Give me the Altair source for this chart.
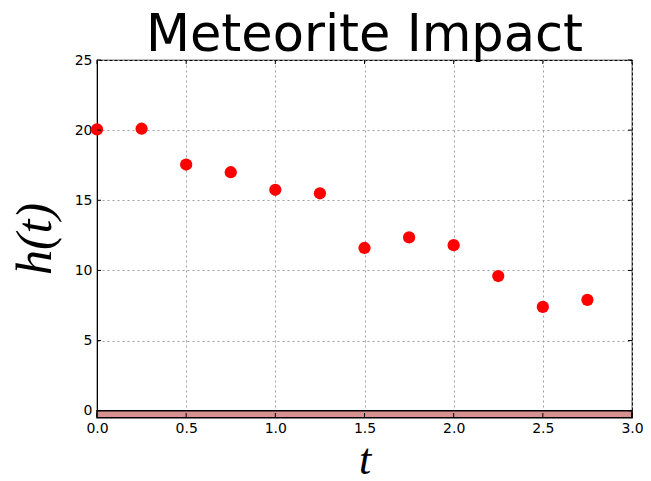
import altair as alt
import pandas as pd

t_vals = [0.0, 0.25, 0.5, 0.75, 1.0, 1.25, 1.5, 1.75, 2.0, 2.25, 2.5, 2.75]
h_vals = [20.05, 20.1, 17.55, 17.0, 15.75, 15.5, 11.6, 12.35, 11.8, 9.6, 7.4, 7.9]
x_ticks = [0.0, 0.5, 1.0, 1.5, 2.0, 2.5, 3.0]
y_ticks = [0, 5, 10, 15, 20, 25]

W, H = 535, 357

pts = pd.DataFrame({"t": t_vals, "h": h_vals})
ground = pd.DataFrame({"x0": [0.0], "x1": [3.0], "y0": [-0.5], "y1": [0.0]})
xt = pd.DataFrame({"v": x_ticks})
yt = pd.DataFrame({"v": y_ticks})

xs = alt.Scale(domain=[0, 3], nice=False, zero=False)
ys = alt.Scale(domain=[-0.45, 25], nice=False, zero=False)

xaxis = alt.Axis(values=x_ticks, format=".1f", title="t", grid=True,
                 gridDash=[2, 3], gridColor="#a0a0a0", gridOpacity=1,
                 domainColor="black", ticks=False, labelPadding=4, labelFlush=False,
                 labelFontSize=14, labelColor="black", labelFont="DejaVu Sans",
                 titleFont="Liberation Serif", titleFontStyle="italic",
                 titleFontWeight="normal", titleFontSize=44, titlePadding=3,
                 titleColor="black")
yaxis = alt.Axis(values=y_ticks, title="h(t)", grid=True,
                 gridDash=[2, 3], gridColor="#a0a0a0", gridOpacity=1,
                 domainColor="black", ticks=False, labelPadding=5, labelFlush=False,
                 labelFontSize=14, labelColor="black", labelFont="DejaVu Sans",
                 titleFont="Liberation Serif", titleFontStyle="italic",
                 titleFontWeight="normal", titleFontSize=50, titlePadding=14,
                 titleColor="black")

rect = alt.Chart(ground).mark_rect(color="#d89090", stroke="black", strokeWidth=1.5).encode(
    x=alt.X("x0:Q", scale=xs, axis=xaxis),
    x2="x1:Q",
    y=alt.Y("y0:Q", scale=ys, axis=yaxis),
    y2="y1:Q",
)

points = alt.Chart(pts).mark_circle(color="red", opacity=1, size=150).encode(
    x=alt.X("t:Q", scale=xs),
    y=alt.Y("h:Q", scale=ys),
)

tick_style = dict(color="black", thickness=1, size=4, opacity=1)
xb = alt.Chart(xt).mark_tick(**tick_style).encode(x=alt.X("v:Q", scale=xs), y=alt.value(H - 2))
xtp = alt.Chart(xt).mark_tick(**tick_style).encode(x=alt.X("v:Q", scale=xs), y=alt.value(2))
yl = alt.Chart(yt).mark_tick(**tick_style).encode(y=alt.Y("v:Q", scale=ys), x=alt.value(2))
yr = alt.Chart(yt).mark_tick(**tick_style).encode(y=alt.Y("v:Q", scale=ys), x=alt.value(W - 2))

chart = alt.layer(rect, points, xb, xtp, yl, yr).properties(
    width=W, height=H,
    title=alt.TitleParams("Meteorite Impact", font="DejaVu Sans", fontSize=51,
                          fontWeight="normal", color="black", offset=-9),
    autosize=alt.AutoSizeParams(type="none"),
    padding={"left": 89, "top": 52, "right": 11, "bottom": 62},
).configure_view(stroke="black", strokeWidth=1.2)

chart.save("out.html", embed_options={"renderer": "svg", "actions": False})
